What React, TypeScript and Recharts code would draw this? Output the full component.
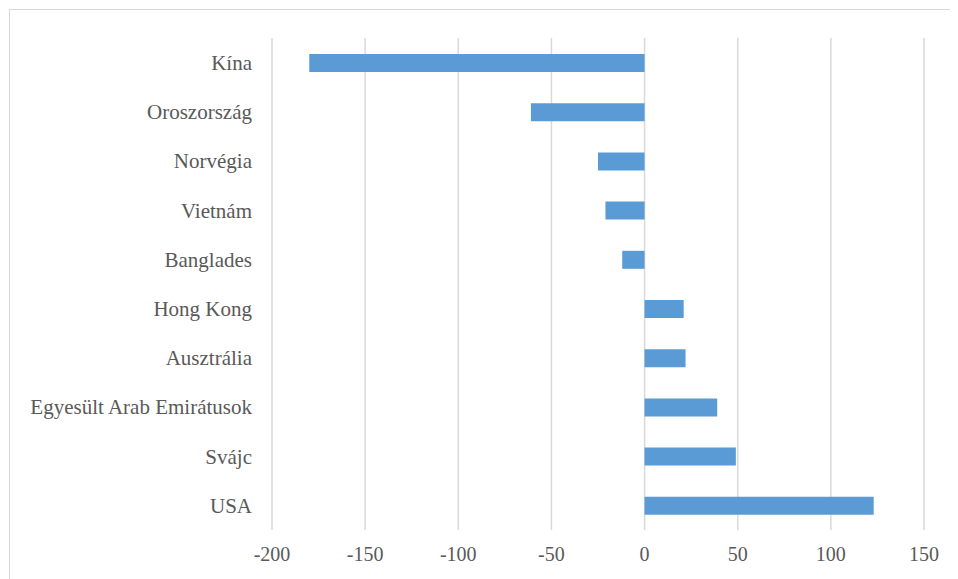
import { BarChart, Bar, XAxis, YAxis, CartesianGrid } from "recharts";

const countries = [
  "Kína",
  "Oroszország",
  "Norvégia",
  "Vietnám",
  "Banglades",
  "Hong Kong",
  "Ausztrália",
  "Egyesült Arab Emirátusok",
  "Svájc",
  "USA",
];

const balance = [-180, -61, -25, -21, -12, 21, 22, 39, 49, 123];

const xTicks = [-200, -150, -100, -50, 0, 50, 100, 150];

const data = countries.map((name, i) => ({ name, value: balance[i] }));

const FONT = "'Liberation Serif', 'Times New Roman', Times, serif";
const TEXT = "#595959";
const GRID = "#d9d9d9";

export default function App() {
  return (
    <div
      style={{
        marginLeft: 1,
        marginTop: 1,
        borderLeft: `1.5px solid ${GRID}`,
        borderTop: `1.5px solid ${GRID}`,
        width: 948,
        height: 569,
        fontFamily: FONT,
      }}
    >
      <style>{`.recharts-text { font-family: ${FONT}; }`}</style>
      <BarChart
        width={940}
        height={569}
        layout="vertical"
        data={data}
        margin={{ top: 28, right: 26, left: 0, bottom: 9 }}
        barCategoryGap={0}
        style={{ fontFamily: FONT }}
      >
        <CartesianGrid
          horizontal={false}
          stroke={GRID}
          strokeWidth={1.5}
        />
        <XAxis
          type="number"
          domain={[-200, 150]}
          ticks={xTicks}
          axisLine={false}
          tickLine={false}
          tickSize={0}
          tickMargin={17}
          height={40}
          interval={0}
          tick={{ fill: TEXT, fontSize: 20, fontFamily: FONT }}
        />
        <YAxis
          type="category"
          dataKey="name"
          width={262}
          axisLine={false}
          tickLine={false}
          tickSize={0}
          tickMargin={20}
          interval={0}
          tick={{ fill: TEXT, fontSize: 21, fontFamily: FONT }}
        />
        <Bar
          dataKey="value"
          fill="#5b9bd5"
          barSize={18}
          isAnimationActive={false}
        />
      </BarChart>
    </div>
  );
}
